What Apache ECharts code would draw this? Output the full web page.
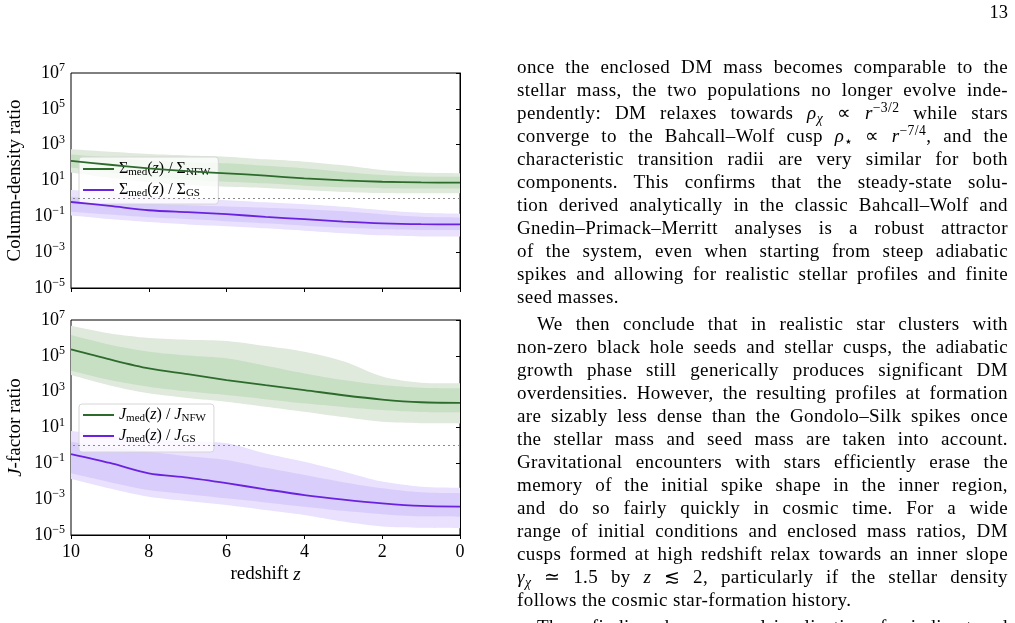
<!DOCTYPE html>
<html>
<head>
<meta charset="utf-8">
<script src="https://cdn.jsdelivr.net/npm/echarts@6/dist/echarts.min.js"></script>
<style>
html,body{margin:0;padding:0;width:1015px;height:623px;overflow:hidden;background:#fff;}
#chart{position:absolute;left:0;top:0;width:1015px;height:623px;}
#page{position:absolute;right:7px;top:2px;font-family:'Liberation Serif',serif;font-size:18.5px;color:#000;}
#text{position:absolute;left:517px;top:55px;width:491px;font-family:'Liberation Serif',serif;font-size:19px;letter-spacing:0.4px;color:#000;}
.l{height:23px;line-height:23px;text-align:justify;text-align-last:justify;overflow:visible;}
.e{text-align:left;text-align-last:left;}
.ind{text-indent:20px;}
.gap{height:4px;}
.sb{font-size:0.72em;position:relative;top:0.32em;}
.sp{font-size:0.72em;position:relative;top:-0.48em;}
</style>
</head>
<body>
<div id="chart"></div>
<div id="page">13</div>
<div id="text">
<div class="l">once the enclosed DM mass becomes comparable to the</div>
<div class="l">stellar mass, the two populations no longer evolve inde-</div>
<div class="l">pendently: DM relaxes towards <i>ρ</i><span class="sb"><i>χ</i></span> ∝ <i>r</i><span class="sp">−3/2</span> while stars</div>
<div class="l">converge to the Bahcall–Wolf cusp <i>ρ</i><span class="sb">⋆</span> ∝ <i>r</i><span class="sp">−7/4</span>, and the</div>
<div class="l">characteristic transition radii are very similar for both</div>
<div class="l">components.  This confirms that the steady-state solu-</div>
<div class="l">tion derived analytically in the classic Bahcall–Wolf and</div>
<div class="l">Gnedin–Primack–Merritt analyses is a robust attractor</div>
<div class="l">of the system, even when starting from steep adiabatic</div>
<div class="l">spikes and allowing for realistic stellar profiles and finite</div>
<div class="l e">seed masses.</div>
<div class="gap"></div>
<div class="l ind">We then conclude that in realistic star clusters with</div>
<div class="l">non-zero black hole seeds and stellar cusps, the adiabatic</div>
<div class="l">growth phase still generically produces significant DM</div>
<div class="l">overdensities. However, the resulting profiles at formation</div>
<div class="l">are sizably less dense than the Gondolo–Silk spikes once</div>
<div class="l">the stellar mass and seed mass are taken into account.</div>
<div class="l">Gravitational encounters with stars efficiently erase the</div>
<div class="l">memory of the initial spike shape in the inner region,</div>
<div class="l">and do so fairly quickly in cosmic time.  For a wide</div>
<div class="l">range of initial conditions and enclosed mass ratios, DM</div>
<div class="l">cusps formed at high redshift relax towards an inner slope</div>
<div class="l"><i>γ</i><span class="sb"><i>χ</i></span> ≃ 1.5 by <i>z</i> ≲ 2, particularly if the stellar density</div>
<div class="l e">follows the cosmic star-formation history.</div>
<div class="gap"></div>
<div class="l ind">These findings have several implications for indirect and</div>
</div>
<script>
// redshift grid (x values)
const redshift = [10, 9, 8, 7, 6, 5, 4, 3, 2, 1, 0];
// y tick exponents (ratio = 10^exponent)
const yTickExponents = [-5, -3, -1, 1, 3, 5, 7];
const xTicks = [10, 8, 6, 4, 2, 0];

// ---- Column-density ratio, log10 values ----
const sigNfwMed    = [2.09, 1.88, 1.68, 1.52, 1.40, 1.27, 1.12, 1.01, 0.93, 0.89, 0.88];
const sigNfwIn68Hi = [2.45, 2.28, 2.12, 2.02, 1.96, 1.82, 1.68, 1.48, 1.31, 1.23, 1.21];
const sigNfwIn68Lo = [1.72, 1.45, 1.22, 1.05, 0.93, 0.84, 0.71, 0.62, 0.57, 0.56, 0.56];
const sigNfwOut95Hi= [2.74, 2.60, 2.48, 2.40, 2.33, 2.18, 2.05, 1.85, 1.59, 1.44, 1.40];
const sigNfwOut95Lo= [1.45, 1.15, 0.92, 0.75, 0.65, 0.58, 0.47, 0.36, 0.30, 0.29, 0.29];

const sigGsMed     = [-0.20, -0.42, -0.66, -0.77, -0.88, -1.03, -1.16, -1.29, -1.39, -1.44, -1.45];
const sigGsIn68Hi  = [0.10, -0.10, -0.28, -0.38, -0.45, -0.52, -0.60, -0.72, -0.88, -1.02, -1.06];
const sigGsIn68Lo  = [-0.74, -0.90, -1.05, -1.15, -1.27, -1.39, -1.52, -1.63, -1.72, -1.76, -1.76];
const sigGsOut95Hi = [0.47, 0.30, 0.14, 0.02, -0.10, -0.22, -0.33, -0.47, -0.66, -0.80, -0.85];
const sigGsOut95Lo = [-0.95, -1.15, -1.32, -1.45, -1.55, -1.67, -1.80, -1.94, -2.06, -2.12, -2.12];

// ---- J-factor ratio, log10 values ----
const jNfwMed      = [5.36, 4.80, 4.30, 3.98, 3.65, 3.36, 3.09, 2.80, 2.56, 2.41, 2.38];
const jNfwIn68Hi   = [6.16, 5.62, 5.23, 5.02, 4.86, 4.45, 4.02, 3.65, 3.37, 3.22, 3.19];
const jNfwIn68Lo   = [4.17, 3.65, 3.28, 3.02, 2.81, 2.58, 2.35, 2.15, 1.98, 1.87, 1.85];
const jNfwOut95Hi  = [6.68, 6.25, 6.00, 5.90, 5.83, 5.55, 5.23, 4.70, 3.85, 3.50, 3.47];
const jNfwOut95Lo  = [3.93, 3.35, 2.91, 2.65, 2.44, 2.16, 1.88, 1.58, 1.32, 1.24, 1.23];

const jGsMed       = [-0.48, -0.98, -1.56, -1.80, -2.11, -2.45, -2.77, -3.02, -3.23, -3.38, -3.42];
const jGsIn68Hi    = [0.21, -0.10, -0.35, -0.60, -0.81, -1.25, -1.65, -2.05, -2.39, -2.62, -2.67];
const jGsIn68Lo    = [-1.56, -2.05, -2.49, -2.72, -2.95, -3.18, -3.42, -3.65, -3.84, -3.96, -3.98];
const jGsOut95Hi   = [0.80, 0.55, 0.35, 0.25, 0.12, -0.45, -0.91, -1.45, -2.02, -2.30, -2.36];
const jGsOut95Lo   = [-1.87, -2.40, -2.86, -3.10, -3.32, -3.60, -3.88, -4.25, -4.53, -4.60, -4.62];

const refLevel = 0; // ratio = 1

const GREEN = '#2c6b2c', GREEN_IN = '#c7dfc3', GREEN_OUT = '#dfe9dc';
const PURPLE = '#6a22e0', PURPLE_IN = '#d9cdfb', PURPLE_OUT = '#e9e1fd';
const SERIF = "'Liberation Serif', 'DejaVu Serif', serif";

const names = {
  sN: 'Σmed(z) / ΣNFW', sG: 'Σmed(z) / ΣGS',
  jN: 'Jmed(z) / JNFW', jG: 'Jmed(z) / JGS'
};
const legendRich = {};
legendRich[names.sN] = '{n|Σ}{s|med}{n|(}{i|z}{n|) / Σ}{s|NFW}';
legendRich[names.sG] = '{n|Σ}{s|med}{n|(}{i|z}{n|) / Σ}{s|GS}';
legendRich[names.jN] = '{i|J}{s|med}{n|(}{i|z}{n|) / }{i|J}{s|NFW}';
legendRich[names.jG] = '{i|J}{s|med}{n|(}{i|z}{n|) / }{i|J}{s|GS}';

function band(gi, lo, hi, color, zz) {
  return {
    type: 'custom', xAxisIndex: gi, yAxisIndex: gi, silent: true, clip: true, z: zz,
    data: redshift.map((r, i) => [r, lo[i], hi[i]]),
    encode: { x: 0, y: [1, 2] },
    renderItem: function (params, api) {
      if (params.dataIndex !== 0) return null;
      const n = redshift.length, top = [], bot = [];
      for (let i = 0; i < n; i++) {
        top.push(api.coord([redshift[i], hi[i]]));
        bot.push(api.coord([redshift[i], lo[i]]));
      }
      const pts = [].concat([top[0]], top, [top[n - 1]], [bot[n - 1]], bot.slice().reverse(), [bot[0]]);
      return { type: 'polygon', shape: { points: pts, smooth: 0.3 }, style: { fill: color } };
    }
  };
}
function median(gi, name, vals, color, withRef) {
  const s = {
    type: 'line', name: name, xAxisIndex: gi, yAxisIndex: gi, z: 5,
    data: redshift.map((r, i) => [r, vals[i]]),
    showSymbol: false, symbol: 'none', smooth: 0.3,
    lineStyle: { color: color, width: 1.8 }, itemStyle: { color: color },
    silent: true
  };
  if (withRef) {
    s.markLine = {
      silent: true, symbol: ['none', 'none'], label: { show: false },
      lineStyle: { type: [2, 3], color: '#8a8a8a', width: 1 },
      data: [{ yAxis: refLevel }], z: 4
    };
  }
  return s;
}
function yAxis(gi, nameText, rich) {
  return {
    type: 'value', gridIndex: gi, min: -5, max: 7, interval: 2,
    name: nameText, nameLocation: 'middle', nameGap: 46,
    nameTextStyle: { fontFamily: SERIF, fontSize: 19, color: '#000', rich: rich },
    axisLine: { show: true, lineStyle: { color: '#000', width: 1 } },
    axisTick: { show: true, length: 4, lineStyle: { color: '#000' } },
    splitLine: { show: false },
    axisLabel: {
      margin: 6,
      formatter: function (v) {
        if (yTickExponents.indexOf(v) < 0) return '';
        return '{b|10}{e|' + String(v).replace('-', '−') + '}';
      },
      rich: {
        b: { fontFamily: SERIF, fontSize: 18, color: '#000' },
        e: { fontFamily: SERIF, fontSize: 12, color: '#000', padding: [0, 0, 10, 0] }
      }
    }
  };
}
function xAxis(gi, showLabels) {
  return {
    type: 'value', gridIndex: gi, min: 0, max: 10, interval: 2, inverse: true,
    name: showLabels ? 'redshift {i|z}' : '', nameLocation: 'middle', nameGap: 30,
    nameTextStyle: {
      fontFamily: SERIF, fontSize: 19, color: '#000',
      rich: { i: { fontFamily: SERIF, fontSize: 19, fontStyle: 'italic', color: '#000' } }
    },
    axisLine: { show: true, onZero: false, lineStyle: { color: '#000', width: 1 } },
    axisTick: { show: true, length: 4, lineStyle: { color: '#000' } },
    splitLine: { show: false },
    axisLabel: {
      show: showLabels, margin: 8, fontFamily: SERIF, fontSize: 18, color: '#000',
      formatter: function (v) { return xTicks.indexOf(v) >= 0 ? String(v) : ''; }
    }
  };
}
function legend(data, top, gap, pad) {
  return {
    data: data, left: 79, top: top, orient: 'vertical',
    backgroundColor: 'rgba(255,255,255,0.8)', borderColor: '#d6d6d6', borderWidth: 1, borderRadius: 3,
    padding: pad, itemGap: gap, itemWidth: 31, itemHeight: 2, icon: 'rect',
    selectedMode: false,
    formatter: function (name) { return legendRich[name]; },
    textStyle: {
      fontFamily: SERIF, fontSize: 16, color: '#000',
      rich: {
        n: { fontFamily: SERIF, fontSize: 16, color: '#000' },
        i: { fontFamily: SERIF, fontSize: 16, fontStyle: 'italic', color: '#000' },
        s: { fontFamily: SERIF, fontSize: 11, color: '#000', padding: [7, 0, 0, 0] }
      }
    }
  };
}

const chart = echarts.init(document.getElementById('chart'), null, { renderer: 'canvas' });
chart.setOption({
  animation: false,
  backgroundColor: 'transparent',
  grid: [
    { left: 71, top: 73, width: 389, height: 215, show: true, borderColor: '#000', borderWidth: 1, backgroundColor: 'transparent' },
    { left: 71, top: 320, width: 389, height: 215, show: true, borderColor: '#000', borderWidth: 1, backgroundColor: 'transparent' }
  ],
  xAxis: [xAxis(0, false), xAxis(1, true)],
  yAxis: [
    yAxis(0, 'Column-density ratio', {}),
    yAxis(1, '{i|J}-factor ratio', { i: { fontFamily: SERIF, fontSize: 19, fontStyle: 'italic', color: '#000' } })
  ],
  legend: [
    legend([names.sN, names.sG], 157, 4, [4, 8, 5, 4]),
    legend([names.jN, names.jG], 404, 4, [3, 8, 7, 4])
  ],
  series: [
    band(0, sigNfwOut95Lo, sigNfwOut95Hi, GREEN_OUT, 1),
    band(0, sigNfwIn68Lo, sigNfwIn68Hi, GREEN_IN, 2),
    band(0, sigGsOut95Lo, sigGsOut95Hi, PURPLE_OUT, 1),
    band(0, sigGsIn68Lo, sigGsIn68Hi, PURPLE_IN, 2),
    median(0, names.sN, sigNfwMed, GREEN, true),
    median(0, names.sG, sigGsMed, PURPLE, false),
    band(1, jNfwOut95Lo, jNfwOut95Hi, GREEN_OUT, 1),
    band(1, jNfwIn68Lo, jNfwIn68Hi, GREEN_IN, 2),
    band(1, jGsOut95Lo, jGsOut95Hi, PURPLE_OUT, 1),
    band(1, jGsIn68Lo, jGsIn68Hi, PURPLE_IN, 2),
    median(1, names.jN, jNfwMed, GREEN, true),
    median(1, names.jG, jGsMed, PURPLE, false)
  ]
});
</script>
</body>
</html>
